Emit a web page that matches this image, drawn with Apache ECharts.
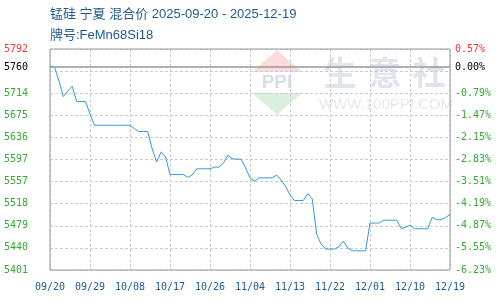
<!DOCTYPE html>
<html>
<head>
<meta charset="utf-8">
<script src="https://cdn.jsdelivr.net/npm/echarts@6.0.0/dist/echarts.min.js"></script>
<style>
html,body{margin:0;padding:0;background:#fff;}
#chart{width:500px;height:300px;}
</style>
</head>
<body>
<div id="chart"></div>
<script>
const titleLine1 = '锰硅 宁夏 混合价 2025-09-20 - 2025-12-19';
const titleLine2 = '牌号:FeMn68Si18';

const dates = [
  '09/20','09/21','09/22','09/23','09/24','09/25','09/26','09/27','09/28','09/29','09/30',
  '10/01','10/02','10/03','10/04','10/05','10/06','10/07','10/08','10/09','10/10',
  '10/11','10/12','10/13','10/14','10/15','10/16','10/17','10/18','10/19','10/20',
  '10/21','10/22','10/23','10/24','10/25','10/26','10/27','10/28','10/29','10/30','10/31',
  '11/01','11/02','11/03','11/04','11/05','11/06','11/07','11/08','11/09','11/10',
  '11/11','11/12','11/13','11/14','11/15','11/16','11/17','11/18','11/19','11/20',
  '11/21','11/22','11/23','11/24','11/25','11/26','11/27','11/28','11/29','11/30',
  '12/01','12/02','12/03','12/04','12/05','12/06','12/07','12/08','12/09','12/10',
  '12/11','12/12','12/13','12/14','12/15','12/16','12/17','12/18','12/19'
];

const prices = [
  5760,5760,5736,5708,5718,5726,5699,5699,5699,5677,
  5657,5657,5657,5657,5657,5657,5657,5657,5657,5651,
  5646,5646,5646,5615,5592,5610,5601,5570,5570,5570,
  5570,5565,5569,5580,5580,5580,5580,5583,5583,5590,
  5604,5598,5597,5597,5582,5564,5558,5564,5564,5564,
  5564,5569,5560,5549,5534,5524,5524,5524,5536,5527,
  5464,5447,5438,5438,5438,5442,5452,5440,5435,5435,
  5435,5435,5484,5484,5484,5489,5489,5489,5489,5474,
  5477,5480,5474,5474,5474,5474,5494,5490,5490,5494,
  5499
];

const basePrice = 5760;
const axisMin = 5401;
const axisMax = 5792;
const labelValues = [5401,5440.1,5479.2,5518.3,5557.4,5596.5,5635.6,5674.7,5713.8,5760,5792];
const leftLabels = ['5401','5440','5479','5518','5557','5597','5636','5675','5714','5760','5792'];
const rightLabels = ['-6.23%','-5.55%','-4.87%','-4.19%','-3.51%','-2.83%','-2.15%','-1.47%','-0.79%','0.00%','0.57%'];

const gridValues = [];
for (let k = 0; k <= 10; k++) gridValues.push(+(axisMin + (axisMax - axisMin) * k / 10).toFixed(2));

function labelIndex(v) {
  const n = Number(v);
  let best = 0, bd = Infinity;
  labelValues.forEach((x, i) => { const d = Math.abs(x - n); if (d < bd) { bd = d; best = i; } });
  return best;
}
function labelColor(v) {
  const i = labelIndex(v);
  if (i === labelValues.length - 1) return '#ff3333';
  if (i === labelValues.length - 2) return '#000000';
  return '#33aa33';
}

const chart = echarts.init(document.getElementById('chart'), null, {renderer: 'canvas'});
chart.setOption({
  animation: false,
  backgroundColor: '#ffffff',
  grid: {left: 50, right: 50, top: 49, bottom: 30, show: true, borderColor: '#999', borderWidth: 1, backgroundColor: 'transparent', z: 1},
  graphic: [
    {type: 'polygon', z: -10, shape: {points: [[277,50],[252,72],[302,72]]}, style: {fill: '#fbdcdc'}},
    {type: 'polygon', z: -10, shape: {points: [[252,93],[302,93],[277,115]]}, style: {fill: '#dcf0df'}},
    {type: 'text', z: -10, x: 277, y: 83, style: {text: 'PPI', fill: '#d6ddeb', font: 'bold 19px "Liberation Sans"', align: 'center', verticalAlign: 'middle'}},
    {type: 'text', z: -10, x: 340, y: 72, style: {text: '生', fill: '#dfe4ee', font: 'bold 33px "Noto Sans CJK SC"', align: 'center', verticalAlign: 'middle'}},
    {type: 'text', z: -10, x: 385, y: 72, style: {text: '意', fill: '#dfe4ee', font: 'bold 33px "Noto Sans CJK SC"', align: 'center', verticalAlign: 'middle'}},
    {type: 'text', z: -10, x: 429, y: 72, style: {text: '社', fill: '#dfe4ee', font: 'bold 33px "Noto Sans CJK SC"', align: 'center', verticalAlign: 'middle'}},
    {type: 'text', z: -10, x: 386, y: 105, style: {text: 'WWW.100PPI.COM', fill: '#e8e8e8', font: '15px "Liberation Sans"', align: 'center', verticalAlign: 'middle'}},
    {type: 'text', x: 50, y: 14, style: {text: titleLine1, fill: '#1f5a8c', font: '13px "Liberation Sans", "Noto Sans CJK SC"', verticalAlign: 'middle'}},
    {type: 'text', x: 50, y: 35, style: {text: titleLine2, fill: '#1f5a8c', font: '13px "Liberation Sans", "Noto Sans CJK SC"', verticalAlign: 'middle'}}
  ],
  xAxis: {
    type: 'category',
    data: dates,
    boundaryGap: false,
    axisLine: {show: false},
    axisTick: {show: false},
    axisLabel: {interval: 8, color: '#1f5a8c', fontFamily: 'DejaVu Sans Mono', fontSize: 10, margin: 12},
    splitLine: {show: true, interval: 8, lineStyle: {color: '#cccccc', type: [3, 2], width: 1}}
  },
  yAxis: [
    {
      type: 'value', position: 'left', min: axisMin, max: axisMax,
      axisLine: {show: false},
      axisTick: {show: false, customValues: gridValues},
      axisLabel: {customValues: labelValues, formatter: v => leftLabels[labelIndex(v)], color: labelColor, fontFamily: 'DejaVu Sans Mono', fontSize: 10, margin: 22},
      splitLine: {show: true, lineStyle: {color: '#cccccc', type: [3, 2], width: 1}}
    },
    {
      type: 'value', position: 'right', min: axisMin, max: axisMax,
      axisLine: {show: false},
      axisTick: {show: false, customValues: gridValues},
      axisLabel: {customValues: labelValues, formatter: v => rightLabels[labelIndex(v)], color: labelColor, fontFamily: 'DejaVu Sans Mono', fontSize: 10, margin: 5},
      splitLine: {show: false}
    }
  ],
  series: [{
    type: 'line',
    data: prices,
    symbol: 'none',
    lineStyle: {color: '#3399dd', width: 1},
    z: 3,
    markLine: {
      silent: true, symbol: 'none', label: {show: false},
      lineStyle: {color: '#999999', type: 'solid', width: 1.5},
      data: [{yAxis: basePrice}]
    }
  }]
});
</script>
</body>
</html>
